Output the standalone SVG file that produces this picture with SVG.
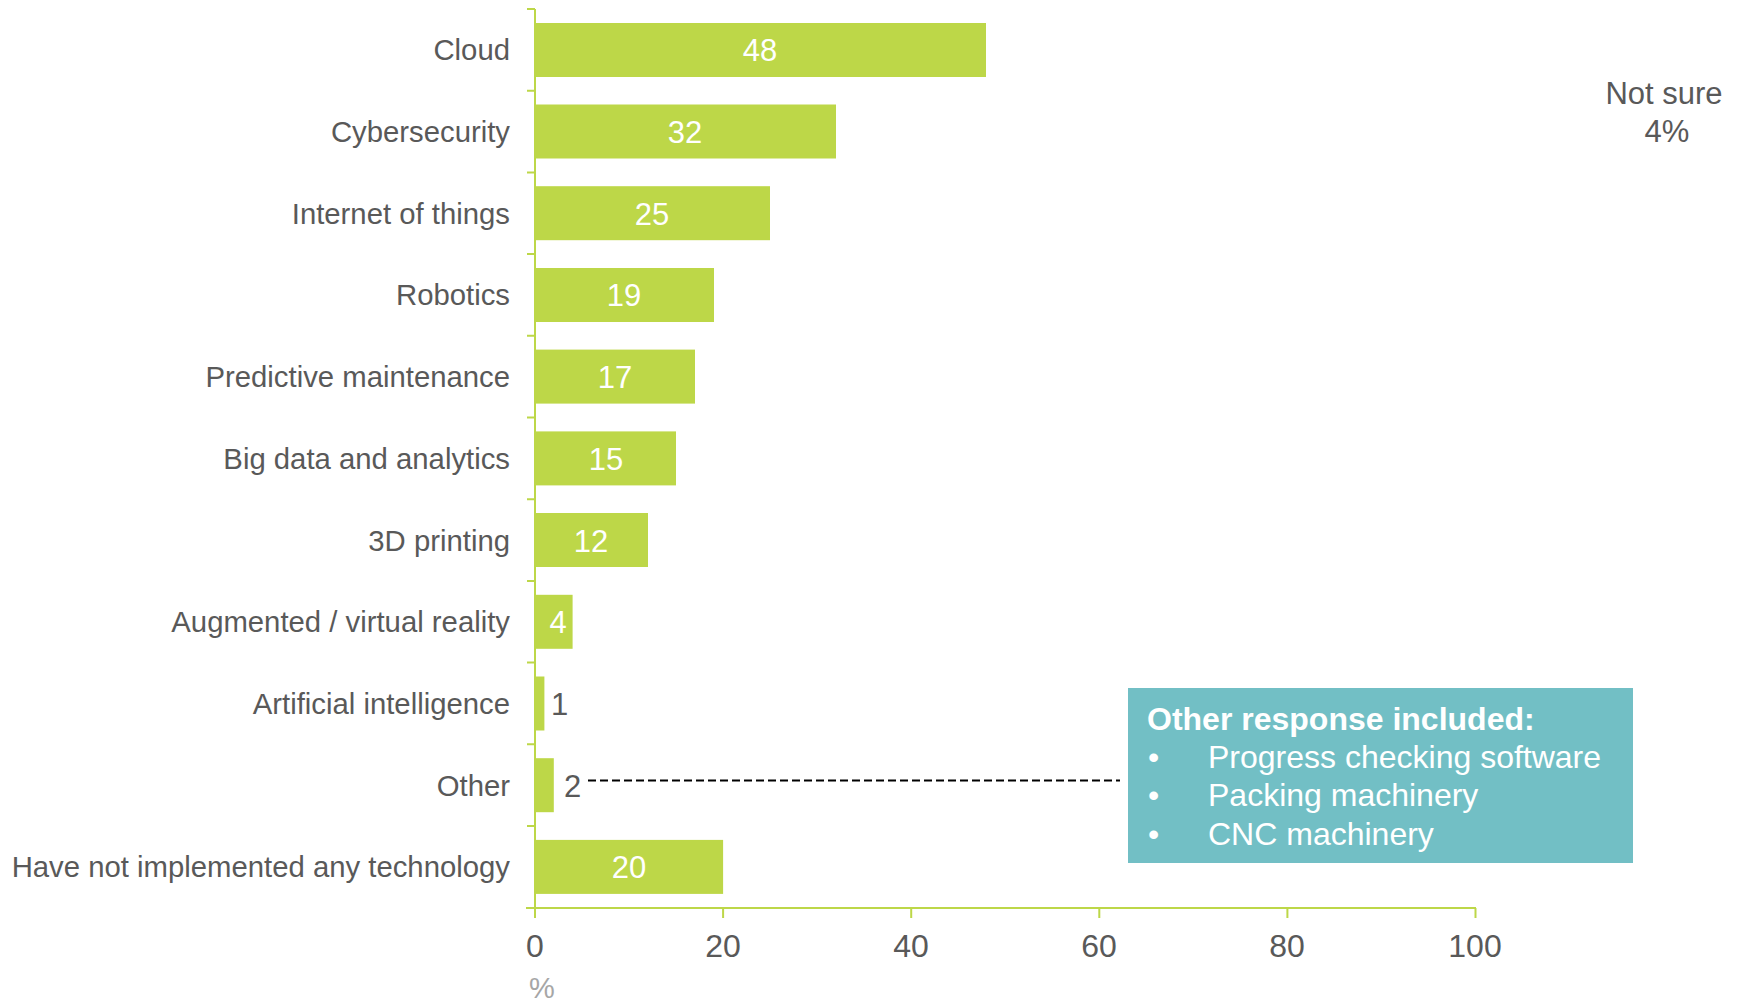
<svg xmlns="http://www.w3.org/2000/svg" width="1741" height="1002" viewBox="0 0 1741 1002">
<style>
.bar{fill:#BDD748}
.ax{stroke:#BDD748;stroke-width:2;fill:none}
.cat{font-family:"Liberation Sans",Arial,sans-serif;font-size:29.3px;fill:#595959;text-anchor:end}
.val{font-family:"Liberation Sans",Arial,sans-serif;font-size:31px;fill:#FFFFFF;text-anchor:middle}
.out{font-family:"Liberation Sans",Arial,sans-serif;font-size:31px;fill:#595959}
.tick{font-family:"Liberation Sans",Arial,sans-serif;font-size:32px;fill:#595959;text-anchor:middle}
.box{font-family:"Liberation Sans",Arial,sans-serif;font-size:32px;fill:#FFFFFF}
</style>
<rect width="1741" height="1002" fill="#FFFFFF"/>
<g id="axes">
<line class="ax" x1="535" y1="9" x2="535" y2="918"/>
<line class="ax" x1="526" y1="908" x2="1476" y2="908"/>
<path class="ax" d="M527 9H535M527 90.7H535M527 172.4H535M527 254.1H535M527 335.8H535M527 417.5H535M527 499.2H535M527 580.9H535M527 662.6H535M527 744.3H535M527 826H535"/>
<path class="ax" d="M723.1 908V918M911.2 908V918M1099.3 908V918M1287.4 908V918M1475.5 908V918"/>
<text class="tick" x="535" y="957">0</text>
<text class="tick" x="723" y="957">20</text>
<text class="tick" x="911" y="957">40</text>
<text class="tick" x="1099" y="957">60</text>
<text class="tick" x="1287" y="957">80</text>
<text class="tick" x="1475" y="957">100</text>
<text x="542" y="998" style="font-family:'Liberation Sans',Arial,sans-serif;font-size:29px;fill:#A6A6A6;text-anchor:middle">%</text>
</g>
<g id="cloud"><text class="cat" x="510" y="60">Cloud</text><rect class="bar" x="535" y="23" width="451" height="54"/><text class="val" x="760" y="61">48</text></g>
<g id="cybersecurity"><text class="cat" x="510" y="142">Cybersecurity</text><rect class="bar" x="535" y="104.5" width="301" height="54"/><text class="val" x="685" y="143">32</text></g>
<g id="iot"><text class="cat" x="510" y="223.5">Internet of things</text><rect class="bar" x="535" y="186.2" width="235" height="54"/><text class="val" x="652" y="224.5">25</text></g>
<g id="robotics"><text class="cat" x="510" y="305">Robotics</text><rect class="bar" x="535" y="268" width="179" height="54"/><text class="val" x="624" y="306">19</text></g>
<g id="predictive"><text class="cat" x="510" y="387">Predictive maintenance</text><rect class="bar" x="535" y="349.6" width="160" height="54"/><text class="val" x="615" y="388">17</text></g>
<g id="bigdata"><text class="cat" x="510" y="469">Big data and analytics</text><rect class="bar" x="535" y="431.4" width="141" height="54"/><text class="val" x="606" y="470">15</text></g>
<g id="print3d"><text class="cat" x="510" y="550.5">3D printing</text><rect class="bar" x="535" y="513" width="113" height="54"/><text class="val" x="591" y="551.5">12</text></g>
<g id="arvr"><text class="cat" x="510" y="632">Augmented / virtual reality</text><rect class="bar" x="535" y="594.8" width="37.6" height="54"/><text class="val" x="558" y="633">4</text></g>
<g id="ai"><text class="cat" x="510" y="714">Artificial intelligence</text><rect class="bar" x="535" y="676.5" width="9.4" height="54"/><text class="out" x="551" y="715">1</text></g>
<g id="other"><text class="cat" x="510" y="795.5">Other</text><rect class="bar" x="535" y="758.2" width="18.8" height="54"/><text class="out" x="564" y="796.5">2</text></g>
<g id="none"><text class="cat" x="510" y="877">Have not implemented any technology</text><rect class="bar" x="535" y="839.9" width="188.1" height="54"/><text class="val" x="629" y="878">20</text></g>
<g id="notsure">
<text class="out" x="1664" y="104" text-anchor="middle">Not sure</text>
<text class="out" x="1667" y="142" text-anchor="middle">4%</text>
</g>
<g id="connectors">
<line x1="588" y1="780.5" x2="1120" y2="780.5" stroke="#000000" stroke-width="2" stroke-dasharray="8 4"/>
</g>
<g id="otherbox">
<rect x="1128" y="688" width="505" height="175" fill="#72BFC5"/>
<text class="box" x="1147" y="730" font-weight="bold">Other response included:</text>
<text class="box" x="1148" y="768">•</text><text class="box" x="1208" y="768">Progress checking software</text>
<text class="box" x="1148" y="806">•</text><text class="box" x="1208" y="806">Packing machinery</text>
<text class="box" x="1148" y="845">•</text><text class="box" x="1208" y="845">CNC machinery</text>
</g>
</svg>
